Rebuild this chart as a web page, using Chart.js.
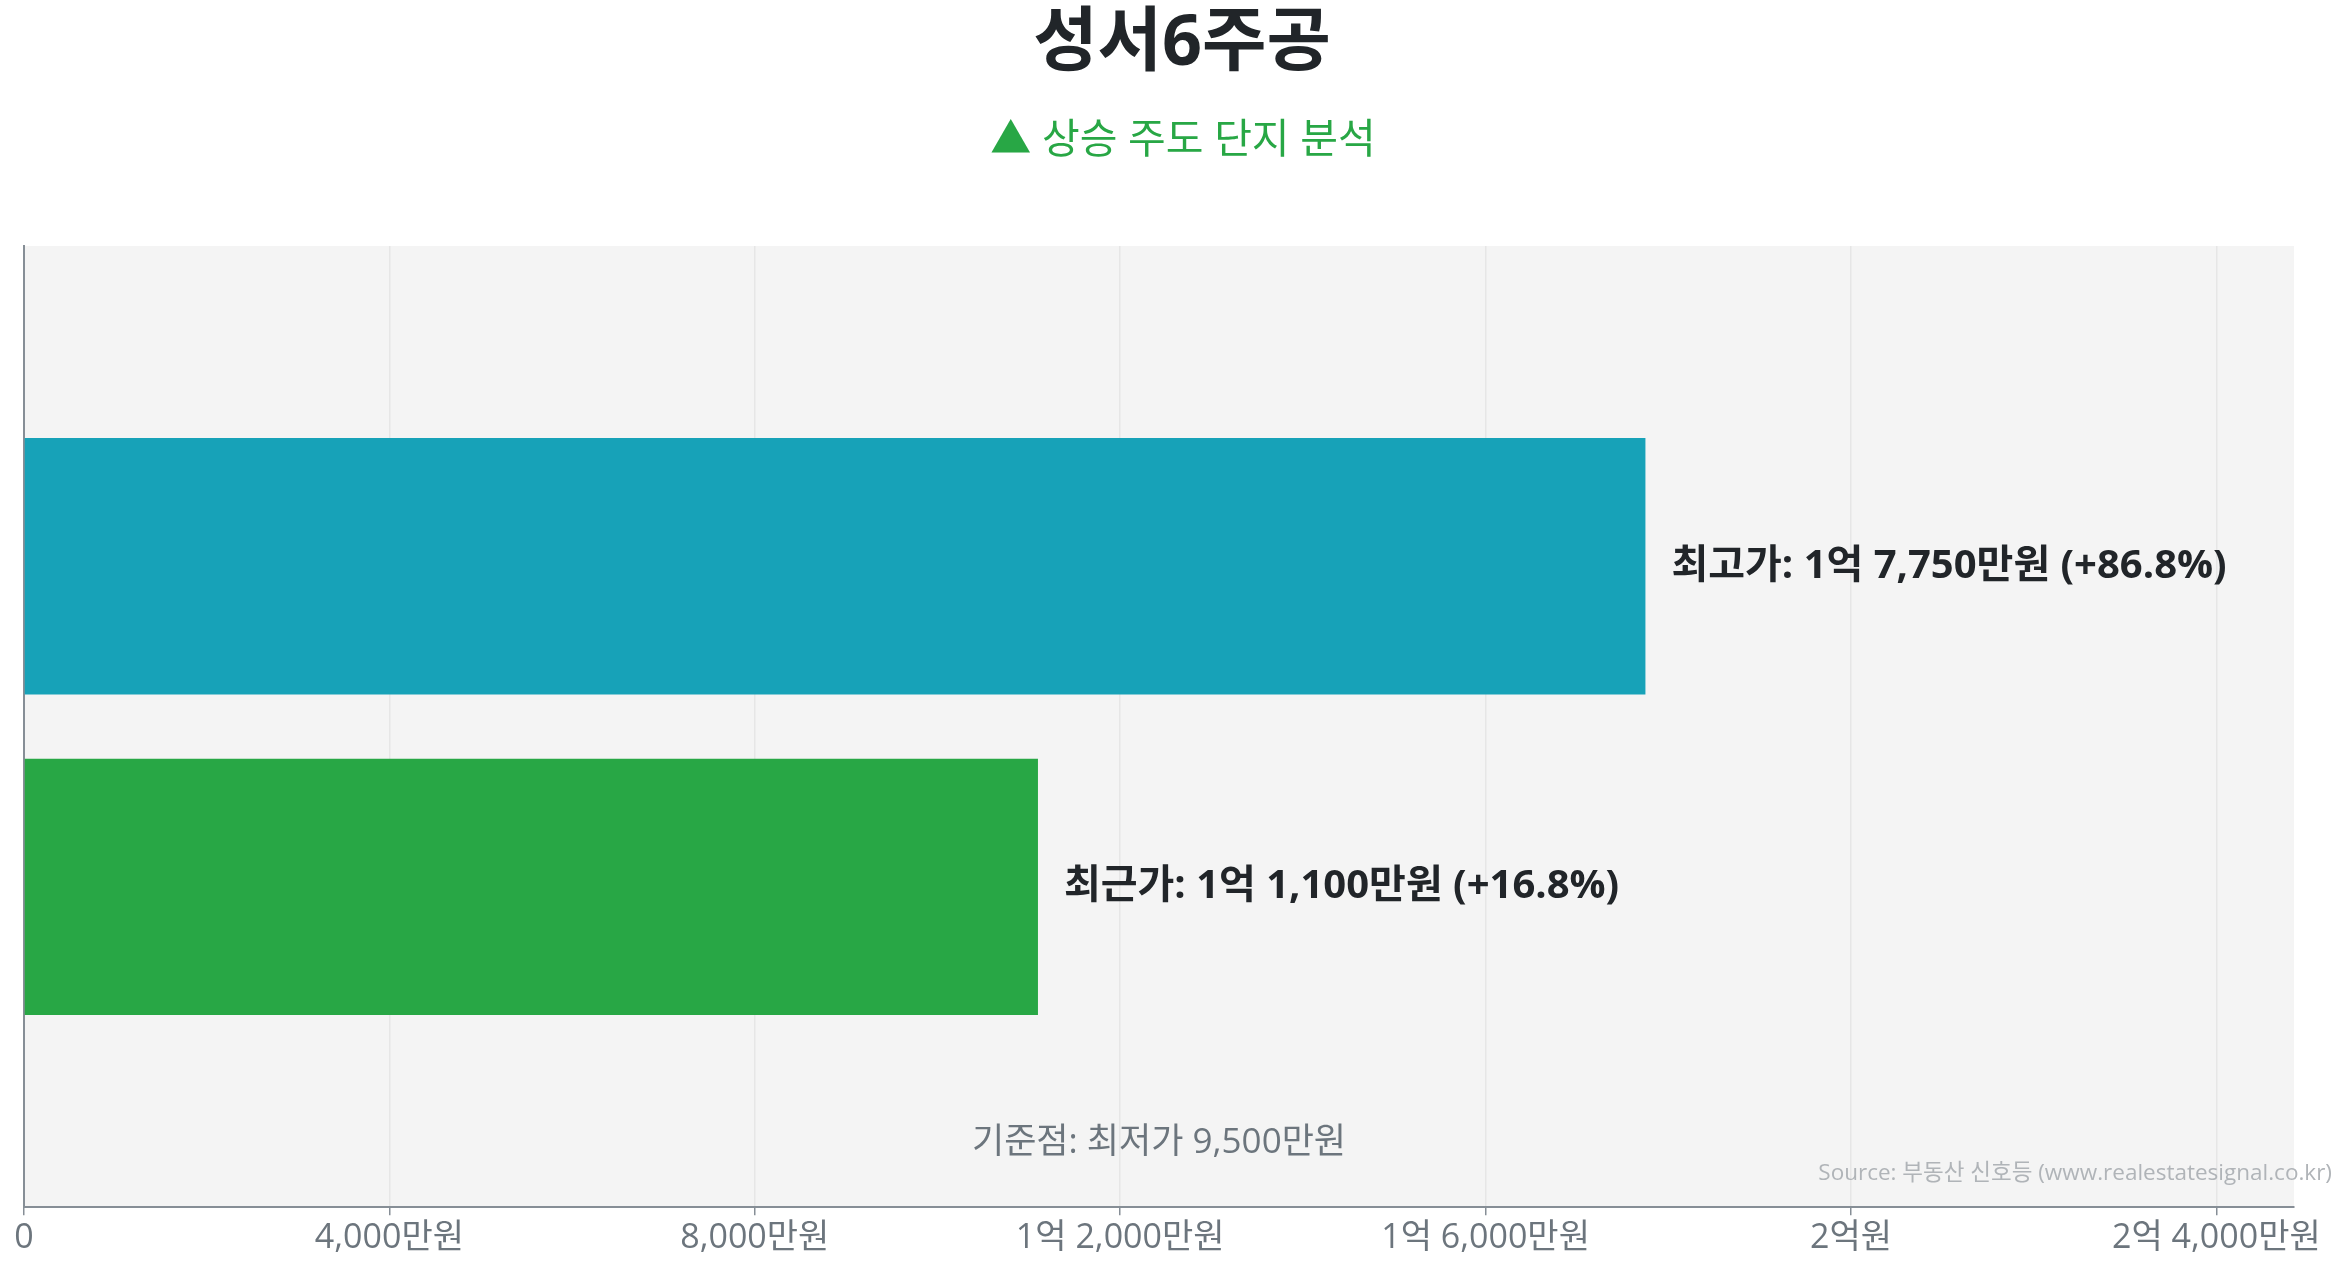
<!DOCTYPE html>
<html><head><meta charset="utf-8">
<script src="https://cdn.jsdelivr.net/npm/chart.js@4.4.1/dist/chart.umd.min.js"></script>
<style>html,body{margin:0;padding:0;background:#fff;overflow:hidden}#wrap{width:2345px;height:1268px;position:relative}</style>
</head><body><div id="wrap"><canvas id="c"></canvas></div>
<script>
const chartTitle = '성서6주공';
const chartSubtitle = '▲ 상승 주도 단지 분석';
const categories = ['성서6주공'];
const seriesLabels = ['최고가', '최근가'];
const seriesValues = [177500000, 111000000];
const basePrice = 95000000;
const baseLabel = '기준점: 최저가';
const xTickValues = [0, 40000000, 80000000, 120000000, 160000000, 200000000, 240000000];
const axisMax = 248500000;
const sourceText = 'Source: 부동산 신호등 (www.realestatesignal.co.kr)';
const seriesColors = ['#17a2b8', '#28a745'];

const FONT = "'Open Sans','Noto Sans CJK KR',sans-serif";

function fmtWon(v) {
  const man = Math.round(v / 10000);
  if (man === 0) return '0';
  const eok = Math.floor(man / 10000);
  const rest = man % 10000;
  if (eok > 0) {
    return rest > 0 ? eok + '억 ' + rest.toLocaleString('en-US') + '만원' : eok + '억원';
  }
  return rest.toLocaleString('en-US') + '만원';
}

const bgPlugin = {
  id: 'bg',
  beforeDraw(chart) {
    const {ctx, chartArea: a} = chart;
    ctx.save();
    ctx.fillStyle = '#f4f4f4';
    ctx.fillRect(a.left, a.top, a.right - a.left, a.bottom - a.top);
    ctx.restore();
  }
};

const textPlugin = {
  id: 'texts',
  afterDatasetsDraw(chart) {
    const ctx = chart.ctx;
    ctx.save();
    chart.data.datasets.forEach((ds, i) => {
      const el = chart.getDatasetMeta(i).data[0];
      const v = ds.data[0];
      const pct = ((v - basePrice) / basePrice * 100).toFixed(1);
      const txt = ds.label + ': ' + fmtWon(v) + ' (+' + pct + '%)';
      ctx.font = "bold 40px " + FONT;
      ctx.fillStyle = '#212529';
      ctx.textAlign = 'left';
      ctx.textBaseline = 'middle';
      ctx.fillText(txt, el.x + 26, el.y);
    });
    const a = chart.chartArea;
    ctx.font = "35px " + FONT;
    ctx.fillStyle = '#6c757d';
    ctx.textAlign = 'center';
    ctx.fillText(baseLabel + ' ' + fmtWon(basePrice), (a.left + a.right) / 2, 1143);
    ctx.font = "22.5px " + FONT;
    ctx.fillStyle = '#b0b4b8';
    ctx.textAlign = 'right';
    ctx.fillText(sourceText, 2332, 1174);
    ctx.font = "bold 70px " + FONT;
    ctx.fillStyle = '#212529';
    ctx.textAlign = 'center';
    ctx.fillText(chartTitle, 1182, 45);
    ctx.font = "41px " + FONT;
    ctx.fillStyle = '#28a745';
    ctx.fillText(chartSubtitle, 1183, 141);
    ctx.restore();
  }
};

new Chart(document.getElementById('c'), {
  type: 'bar',
  data: {
    labels: categories,
    datasets: seriesLabels.map((lab, i) => ({
      label: lab,
      data: [seriesValues[i]],
      backgroundColor: seriesColors[i],
      borderWidth: 0,
      categoryPercentage: 0.667,
      barPercentage: 0.8
    }))
  },
  options: {
    indexAxis: 'y',
    responsive: true,
    maintainAspectRatio: false,
    devicePixelRatio: 1,
    animation: false,
    layout: {padding: {top: 246, left: 24, right: 51, bottom: 6}},
    plugins: {legend: {display: false}, title: {display: false}, tooltip: {enabled: false}},
    scales: {
      x: {
        type: 'linear',
        min: 0,
        max: axisMax,
        afterBuildTicks(scale) { scale.ticks = xTickValues.map(v => ({value: v})); },
        ticks: {callback: v => fmtWon(v), color: '#6c757d', font: {size: 34, family: FONT}, padding: 3, maxRotation: 0, autoSkip: false},
        grid: {color: '#e6e6e6', lineWidth: 1.5, tickColor: '#868e96', tickLength: 8},
        border: {color: '#868e96', width: 2}
      },
      y: {
        type: 'category',
        display: true,
        ticks: {display: false},
        grid: {display: false, drawTicks: false},
        border: {color: '#868e96', width: 2}
      }
    }
  },
  plugins: [bgPlugin, textPlugin]
});
</script></body></html>
